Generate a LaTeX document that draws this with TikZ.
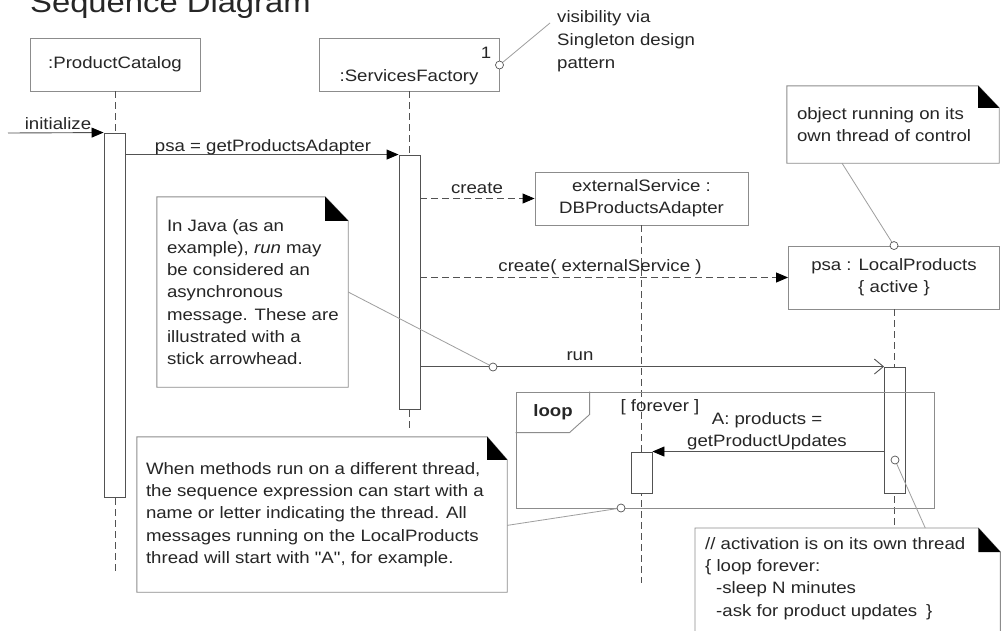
\documentclass[tikz,border=0pt]{standalone}
\usepackage{fontspec}
\setmainfont{Liberation Sans}[FakeStretch=1.13, Ligatures=TeXOff]
\usetikzlibrary{arrows.meta,calc}
\definecolor{boxc}{gray}{0.55}
\definecolor{msgc}{gray}{0.32}
\definecolor{notec}{gray}{0.62}
\definecolor{txtc}{gray}{0.15}
\tikzset{
 lbl/.style={font=\fontsize{16.5}{22.3}\selectfont, text=txtc, inner sep=0pt},
 objbox/.style={draw=boxc, line width=0.9pt, fill=white, inner sep=0pt},
 lifeline/.style={draw=msgc, line width=0.9pt, dash pattern=on 7pt off 4pt},
 actbox/.style={draw=msgc, line width=0.9pt, fill=white, minimum width=21pt, inner sep=0pt},
 syncmsg/.style={draw=msgc, line width=0.9pt, -{Triangle[length=12pt,width=10pt,color=black]}},
 createmsg/.style={syncmsg, dash pattern=on 7pt off 4pt},
 asyncmsg/.style={draw=msgc, line width=0.9pt, -{Straight Barb[length=9pt,width=15pt,line width=0.9pt]}},
 noteline/.style={draw=notec, line width=0.8pt},
 pin/.style={circle, draw=msgc, fill=white, line width=0.7pt, minimum size=8pt, inner sep=0pt},
 notearea/.style={inner sep=0pt},
}
\newcommand{\umlnotedraw}[3]{%
 \draw[draw=boxc, line width=0.9pt] (#1.north west) -- ($(#1.north east)+(-#2,0)$) -- ($(#1.north east)+(0,#3)$) -- (#1.south east) -- (#1.south west) -- cycle;
 \fill[black] ($(#1.north east)+(-#2,0)$) -- ($(#1.north east)+(-#2,#3)$) -- ($(#1.north east)+(0,#3)$) -- cycle;
}
\begin{document}
\begin{tikzpicture}[x=1pt,y=-1pt]
\useasboundingbox (0,0) rectangle (1001,630);
\fill[white] (0,0) rectangle (1001,630);

% title
\node[lbl, font=\fontsize{29}{34}\selectfont, anchor=base west] (title) at (30,12) {Sequence Diagram};

% objects
\node[objbox, minimum width=170pt, minimum height=53pt, lbl] (pc) at (115,64.5) {:ProductCatalog};
\node[objbox, minimum width=180pt, minimum height=53pt] (sf) at (409.5,64.5) {};
\node[lbl] (sflabel) at (409,77) {:ServicesFactory};
\node[lbl] (sfmult) at (486,53) {1};
\node[objbox, minimum width=213pt, minimum height=53pt, lbl, align=center] (es) at (641.5,198.5) {externalService :\\DBProductsAdapter};
\node[objbox, minimum width=211pt, minimum height=63pt, lbl, align=center] (lp) at (894,277.5) {psa : LocalProducts\\\{ active \}};

% lifelines
\coordinate (pcend) at (115,573);
\coordinate (sfend) at (409.5,432);
\coordinate (esend) at (641.5,583);
\coordinate (lpend) at (894,527);
\draw[lifeline] (pc.south) -- (pcend);
\draw[lifeline] (sf.south) -- (sfend);
\draw[lifeline] (es.south) -- (esend);
\draw[lifeline] (lp.south) -- (lpend);

% activations
\node[actbox, minimum height=364pt] (pcact) at (114.5,315) {};
\node[actbox, minimum height=254pt] (sfact) at (409.5,282) {};
\node[actbox, minimum height=126pt] (lpact) at (895,430) {};
\node[actbox, minimum height=41pt] (esact) at (641.5,472.5) {};

% loop frame
\node[draw=boxc, line width=0.9pt, minimum width=418pt, minimum height=116pt, inner sep=0pt] (loopf) at (725,450) {};
\draw[draw=boxc, line width=0.9pt] (loopf.north west) ++(74,0) -- ++(0,23) -- ++(-20,18) -- ++(-54,0);
\node[lbl, font=\fontsize{16.5}{20}\selectfont\bfseries] (looplbl) at (553,412) {loop};
\node[lbl] (guard) at (660,407) {[ forever ]};

% messages
\coordinate (initstart) at (8,133);
\draw[syncmsg] (initstart) -- (pcact.north west);
\node[lbl] (initlbl) at (58,124) {initialize};

\draw[syncmsg] (pcact.east |- sfact.north west) -- (sfact.north west);
\node[lbl] (psalbl) at (263,147) {psa = getProductsAdapter};

\draw[createmsg] (sfact.east |- es.west) -- (es.west);
\node[lbl] (create1lbl) at (477,188) {create};

\draw[createmsg] (sfact.east |- lp.west) -- (lp.west);
\node[lbl] (create2lbl) at (600,267) {create( externalService )};

\draw[asyncmsg] (sfact.east |- lpact.north west) -- (lpact.north west);
\node[lbl] (runlbl) at (580,356) {run};

\draw[syncmsg] (lpact.west |- esact.north east) -- (esact.north east);
\node[lbl, align=center] (updlbl) at (767,431) {A: products =\\getProductUpdates};

% note: visibility
\node[lbl, align=left, anchor=north west, font=\fontsize{16.5}{23}\selectfont] (visnote) at (557,10) {visibility via\\Singleton design\\pattern};
\coordinate (visend) at (550,23);
\coordinate (pin1pos) at (499.5,65);
\node[pin] (pin1) at (pin1pos) {};
\draw[noteline] (pin1) -- (visend);

% note: object running on its own thread
\node[notearea, minimum width=212pt, minimum height=77pt] (othread) at (893,124.5) {};
\umlnotedraw{othread}{21}{22}
\node[lbl, align=left, anchor=west] (othreadtxt) at ($(othread.west)+(10,0)$) {object running on its\\own thread of control};
\node[pin] (pin2) at (lp.north) {};
\draw[noteline] ($(othread.south west)!0.26!(othread.south east)$) -- (pin2);

% note: Java
\node[notearea, minimum width=191pt, minimum height=190pt] (jnote) at (252.5,292) {};
\umlnotedraw{jnote}{23}{24}
\node[lbl, align=left, anchor=west] (jtext) at ($(jnote.west)+(10,0)$) {In Java (as an\\example), \textit{run} may\\be considered an\\asynchronous\\message. These are\\illustrated with a\\stick arrowhead.};
\node[pin] (pin3) at (493,367) {};
\draw[noteline] (jnote.east) -- (pin3);

% note: threads
\node[notearea, minimum width=370pt, minimum height=155pt] (tnote) at (322,514.5) {};
\umlnotedraw{tnote}{20}{23}
\node[lbl, align=left, anchor=west] (ttext) at ($(tnote.west)+(9,0)$) {When methods run on a different thread,\\the sequence expression can start with a\\name or letter indicating the thread. All\\messages running on the LocalProducts\\thread will start with "A", for example.};
\node[pin] (pin4) at (621,508) {};
\draw[noteline] ($(tnote.north east)!0.57!(tnote.south east)$) -- (pin4);

% note: activation
\node[notearea, minimum width=305pt, minimum height=112pt, anchor=north west] (anote) at (695,528) {};
\umlnotedraw{anote}{22}{24}
\node[lbl, align=left, anchor=north west] (atext) at (705,537) {// activation is on its own thread\\\{ loop forever:\\\hspace*{11pt}-sleep N minutes\\\hspace*{11pt}-ask for product updates\hspace*{9pt}\}};
\node[pin] (pin5) at (895,460) {};
\draw[noteline] (pin5) -- ($(anote.north west)!0.754!(anote.north east)$);
\end{tikzpicture}
\end{document}
